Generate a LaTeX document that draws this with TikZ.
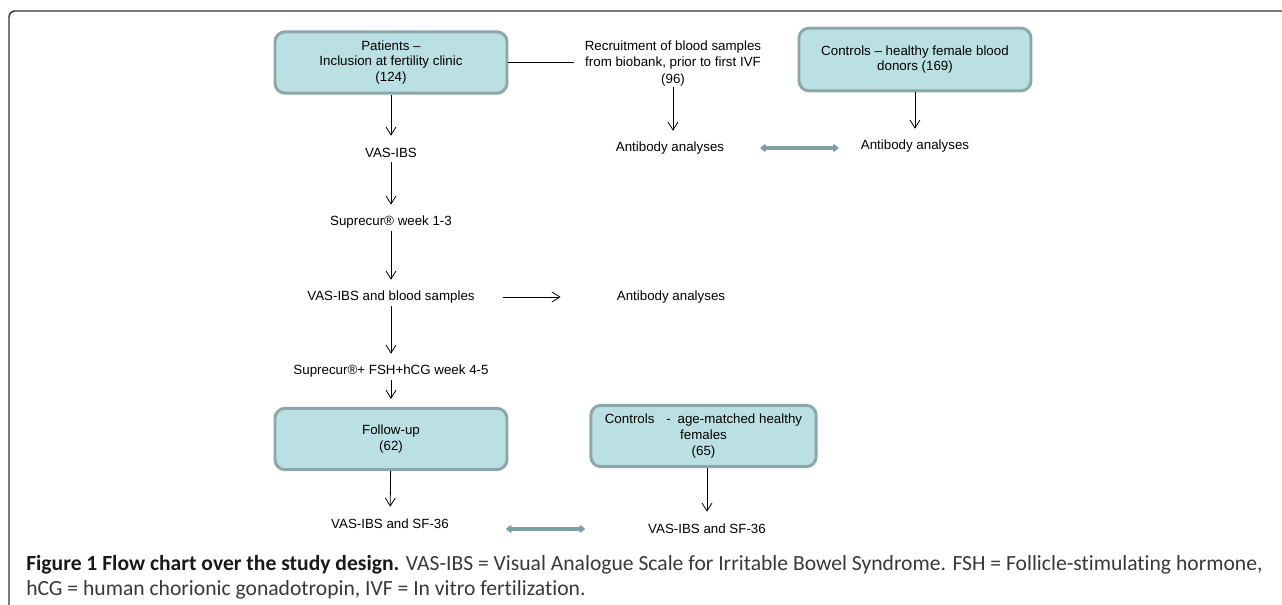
\documentclass[tikz,border=0pt]{standalone}
\usepackage{fontspec}
\setmainfont{Liberation Sans}
\newfontfamily\capfont[Ligatures={NoCommon}]{Carlito}
\usetikzlibrary{arrows.meta}
\definecolor{boxfill}{RGB}{186,224,227}
\definecolor{boxline}{RGB}{139,167,169}
\definecolor{dblcol}{RGB}{126,160,161}

\begin{document}
\begin{tikzpicture}[x=0.75pt, y=-0.75pt,
  box/.style={draw=boxline, line width=2.2pt, fill=boxfill, rounded corners=7.5pt, minimum width=174pt, minimum height=46pt, align=center, font=\fontsize{10}{11.8}\selectfont},
  txt/.style={inner sep=0pt, minimum height=13.5pt, align=center, font=\fontsize{10}{12}\selectfont},
  arr/.style={-{Straight Barb[length=6pt,width=7.5pt]}, line width=0.6pt, shorten >=6pt},
  dbl/.style={{Triangle[length=4.5pt,width=6.5pt,round]}-{Triangle[length=4.5pt,width=6.5pt,round]}, line width=3pt, draw=dblcol, fill=dblcol},
  captext/.style={inner sep=0pt, anchor=base west, font=\capfont\fontsize{16.2}{19}\selectfont}]
\useasboundingbox (0,0) rectangle (1282,605);
\draw[black!80, line width=1.1pt, rounded corners=4.5pt] (1282,11) -- (9,11) -- (9,606);

\node[box] (pat) at (391, 62.5) {Patients --\\Inclusion at fertility clinic\\(124)};
\node[txt, font=\fontsize{10}{12.4}\selectfont] (rec) at (673, 63.5) {Recruitment of blood samples\\from biobank, prior to first IVF\\(96)};
\node[box, minimum height=47pt] (con1) at (915, 59.5) {Controls -- healthy female blood\\donors (169)};
\node[txt] (anti1) at (670, 148) {Antibody analyses};
\node[txt] (anti3) at (915, 146) {Antibody analyses};
\node[txt] (vas1) at (391, 153) {VAS-IBS};
\node[txt] (sup1) at (391, 222) {Suprecur® week 1-3};
\node[txt] (blood) at (391, 297) {VAS-IBS and blood samples};
\node[txt] (anti2) at (671, 297) {Antibody analyses};
\node[txt] (sup2) at (391, 371) {Suprecur®+ FSH+hCG week 4-5};
\node[box] (fol) at (391, 439) {Follow-up\\(62)};
\node[box, minimum width=169pt, inner sep=2pt, font=\fontsize{10}{12.2}\selectfont] (con2) at (703.5, 436) {Controls\hspace{0.9em}-\hspace{0.5em}age-matched healthy\\females\\(65)};
\node[txt] (vas2) at (390, 524) {VAS-IBS and SF-36};
\node[txt] (vas3) at (707, 529) {VAS-IBS and SF-36};

\node[captext] (cap1) at (26, 571) {\textbf{\color{black!90}Figure 1 Flow chart over the study design.} {\color{black!78}VAS-IBS = Visual Analogue Scale for Irritable Bowel Syndrome. FSH = Follicle-stimulating hormone,}};
\node[captext, text=black!78] (cap2) at (26, 596) {hCG = human chorionic gonadotropin, IVF = In vitro fertilization.};

\path[-, line width=0.6pt] (pat.east) edge ([xshift=-8pt]rec.west |- pat.east);
\path[arr] (pat) edge (vas1);\path[arr] (vas1) edge (sup1);\path[arr] (sup1) edge (blood);\path[arr] (blood) edge (sup2);\path[arr] (sup2) edge (fol);
\path[arr] (rec.south) edge (rec.south |- anti1.north);\path[arr] (con1) edge (anti3);
\path[arr, shorten >=0pt] ([xshift=21pt]blood.east) edge ([xshift=-42pt]anti2.west);
\path[arr] (fol) edge (vas2);\path[arr] (con2.south -| vas3.north) edge (vas3.north);
\draw[dbl] ([xshift=27pt]anti1.east) -- ([xshift=-16.5pt]anti3.west |- anti1.east);
\draw[dbl] ([xshift=42.75pt]vas2.east |- vas3.west) -- ([xshift=-47.25pt]vas3.west);

\end{tikzpicture}
\end{document}
